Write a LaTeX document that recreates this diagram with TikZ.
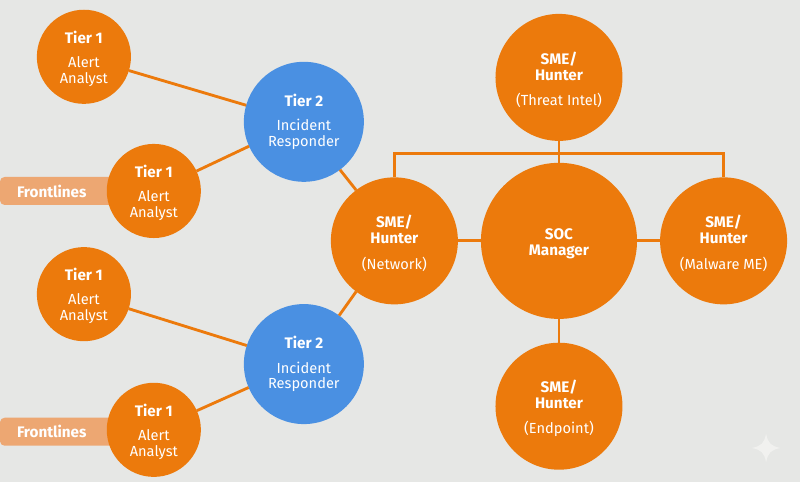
\documentclass[tikz,border=0pt]{standalone}
\usepackage{fontspec}
\setmainfont{Fira Sans}
\usepackage{xcolor}
\usetikzlibrary{positioning,calc}
\definecolor{paper}{HTML}{E6E7E5}
\definecolor{socorange}{HTML}{EC7A0C}
\definecolor{socblue}{HTML}{4A90E2}
\definecolor{softorange}{HTML}{EDA772}
\definecolor{sparkle}{HTML}{F1F1EF}
\newcommand{\headline}[2][0pt]{\rule{0pt}{#1}{\fontsize{11.5}{12}\selectfont\bfseries #2}}
\tikzset{
    roundnode/.style={circle,fill=socorange,inner sep=0pt,outer sep=0pt,
      text=white,align=center,font=\fontsize{11}{12}\selectfont},
    tieroneNode/.style={roundnode,minimum size=24.9mm},
    tiertwoNode/.style={roundnode,fill=socblue,minimum size=31.75mm},
    smeNode/.style={roundnode,minimum size=33.6mm},
    managerNode/.style={roundnode,minimum size=41.3mm},
    frontTag/.style={fill=softorange,rounded corners=1.2mm,minimum height=7.4mm,
      anchor=west,text width=26mm,inner xsep=4.5mm,inner ysep=0pt,outer sep=0pt,
      text=white,align=left,font=\fontsize{11.5}{12}\selectfont\bfseries},
    link/.style={draw=socorange,line width=0.75mm}
}
\begin{document}
\begin{tikzpicture}[x=1mm,y=1mm]
  \fill[paper] (0,0) rectangle (211.67,127.53);
  \useasboundingbox (0,0) rectangle (211.67,127.53);

  \node[frontTag] (frontA) at (0,77) {Frontlines};
  \node[frontTag] (frontB) at (0,13.3) {Frontlines};

  \node[tieroneNode] (alertA) at (22.2,112.5) {\headline[12.5pt]{Tier 1}\\[6pt]Alert\\Analyst};
  \node[tieroneNode] (alertB) at (40.7,77) {\headline[12.5pt]{Tier 1}\\[6pt]Alert\\Analyst};
  \node[tieroneNode] (alertC) at (22.2,49.7) {\headline[12.5pt]{Tier 1}\\[6pt]Alert\\Analyst};
  \node[tieroneNode] (alertD) at (40.7,13.8) {\headline[12.5pt]{Tier 1}\\[6pt]Alert\\Analyst};

  \node[tiertwoNode] (respA) at (80.4,95.3) {\headline{Tier 2}\\[6.5pt]Incident\\Responder};
  \node[tiertwoNode] (respB) at (80.4,31.2) {\headline{Tier 2}\\[6.5pt]Incident\\Responder};

  \node[managerNode] (soc) at (147.9,63.8) {\headline[12.5pt]{SOC}\\\headline{Manager}};
  \node[smeNode,left=6.1mm of soc] (network) {\headline[13pt]{SME/}\\\headline{Hunter}\\[7pt](Network)};
  \node[smeNode,right=6.1mm of soc] (malware) {\headline[13pt]{SME/}\\\headline{Hunter}\\[7pt](Malware ME)};
  \node[smeNode,above=5.8mm of soc] (intel) {\headline[13pt]{SME/}\\\headline{Hunter}\\[7pt](Threat Intel)};
  \node[smeNode,below=6.3mm of soc] (endpoint) {\headline[13pt]{SME/}\\\headline{Hunter}\\[7pt](Endpoint)};

  \draw[link] (alertA.-17) -- (respA.164);
  \draw[link] (alertB.25) -- (respA.204);
  \draw[link] (alertC.-18) -- (respB.162);
  \draw[link] (alertD.24) -- (respB.203);
  \draw[link] (respA.-53) -- (network.127);
  \draw[link] (respB.54) -- (network.233);

  \coordinate (busmid) at ($(intel.south)!0.59!(soc.north)$);
  \draw[link] (intel.south) -- (soc.north);
  \draw[link] (soc.south) -- (endpoint.north);
  \draw[link] (network.east) -- (soc.west);
  \draw[link] (soc.east) -- (malware.west);
  \draw[link] (network.north) |- (busmid) -| (malware.north);

  % corner mark
  \fill[sparkle] (202.7,12.8) .. controls (203.2,10.2) and (204,9.5) .. (206.5,9)
    .. controls (204,8.5) and (203.2,7.8) .. (202.7,5.2)
    .. controls (202.2,7.8) and (201.4,8.5) .. (198.9,9)
    .. controls (201.4,9.5) and (202.2,10.2) .. (202.7,12.8) -- cycle;
\end{tikzpicture}
\end{document}
